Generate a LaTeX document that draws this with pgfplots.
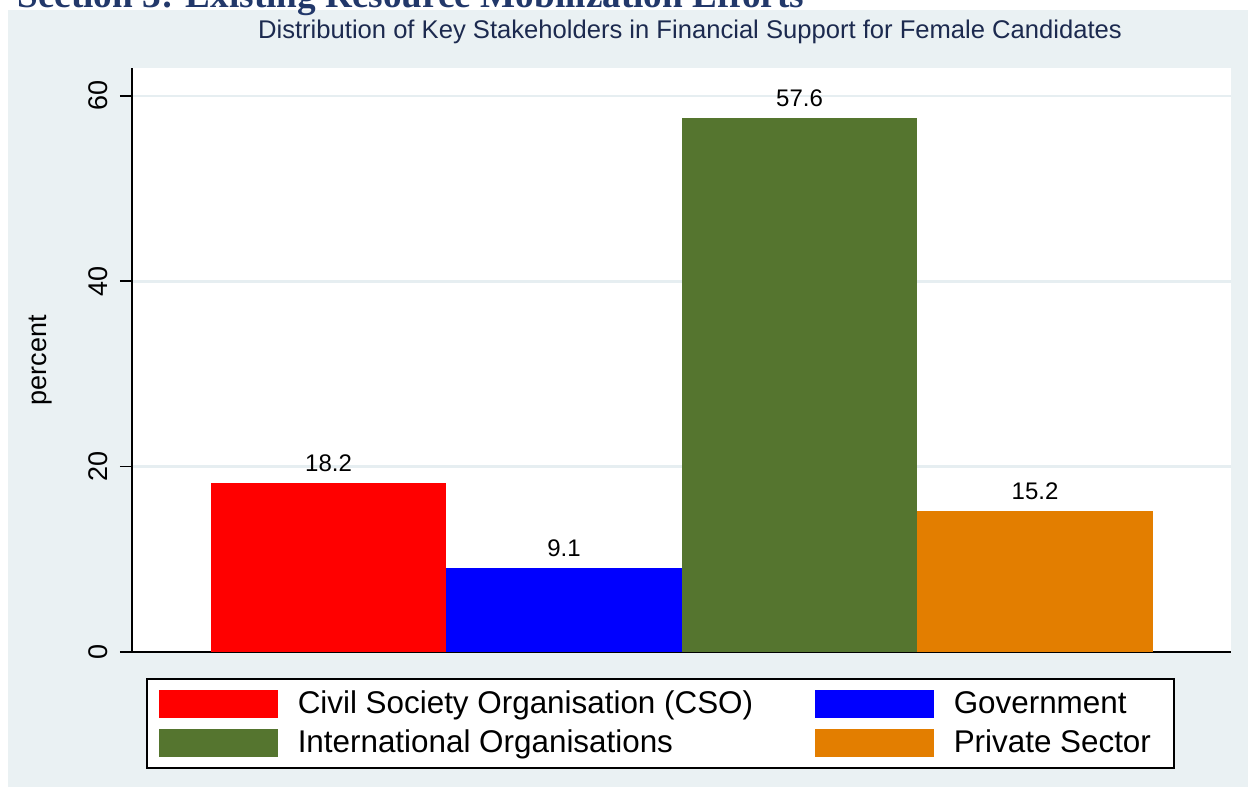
\documentclass[border=0pt]{standalone}
\usepackage{pgfplots}
\pgfplotsset{compat=1.18}
\usepackage{fontspec}
\setmainfont{Liberation Sans}
\newfontfamily\headfont{Liberation Serif}

\definecolor{bgcol}{HTML}{EAF1F3}
\definecolor{gridcol}{HTML}{E6EEF1}
\definecolor{titlecol}{HTML}{1C2A4F}
\definecolor{headcol}{HTML}{22386A}
\definecolor{csored}{HTML}{FF0000}
\definecolor{govblue}{HTML}{0000FF}
\definecolor{intgreen}{HTML}{55752F}
\definecolor{privorange}{HTML}{E37E00}

\begin{document}
\begin{tikzpicture}
% page laid out in pixels of the reference: 1px = 0.5pt, y runs downwards
\begin{scope}[x=0.5pt,y=-0.5pt]
  \fill[bgcol] (8,10) rectangle (1248,787);
  \node[anchor=base west, inner sep=0pt, text=headcol,
        font=\headfont\bfseries\fontsize{18.6}{20}\selectfont]
        at (17,7) {Section 3: Existing Resource Mobilization Efforts};
  \node[text=titlecol, inner sep=0pt, font=\fontsize{12.8}{14}\selectfont]
        at (690,32) {Distribution of Key Stakeholders in Financial Support for Female Candidates};
\end{scope}

\begin{axis}[
    at={(66pt,-326pt)}, anchor=south west,
    scale only axis, width=549.5pt, height=292pt,
    xmin=0.1656, xmax=4.832, ymin=0, ymax=63,
    axis background/.style={fill=white},
    axis x line*=bottom, axis y line*=left,
    axis line style={line width=1pt, -},
    xtick=\empty,
    ytick={0,20,40,60},
    tick align=outside, major tick length=6pt,
    tick style={line width=0.8pt, black},
    ymajorgrids, grid style={gridcol, line width=1.3pt},
    /pgf/number format/assume math mode=true,
    yticklabel style={rotate=90, anchor=south, inner sep=6pt,
                      font=\fontsize{13.5}{15}\selectfont},
    ylabel={percent},
    ylabel style={at={(axis description cs:-0.083,0.5)}, anchor=center,
                  font=\fontsize{13.5}{15}\selectfont},
    ybar, bar width=117.75pt, bar shift=0pt,
    nodes near coords,
    nodes near coords style={anchor=south, inner sep=0pt, yshift=5.5pt,
                             font=\fontsize{12}{13}\selectfont,
                             /pgf/number format/fixed,
                             /pgf/number format/precision=1,
                             /pgf/number format/fixed zerofill},
    legend columns=2,
    legend image code/.code={\fill[#1] (0pt,-7pt) rectangle (59.5pt,7pt);},
    legend style={at={(axis description cs:0.0127,-0.0445)}, anchor=north west,
                  draw=black, line width=0.8pt, fill=white,
                  inner xsep=6pt, inner ysep=5.5pt,
                  row sep=5.5pt, column sep=0pt,
                  font=\fontsize{15.7}{17}\selectfont,
                  nodes={inner sep=0pt},
                  /tikz/every even column/.append style={column sep=0pt},
                  /tikz/every odd column/.append style={column sep=10pt}},
    legend cell align=left,
]
\addplot[fill=csored, draw=none] coordinates {(1,18.2)};
\addlegendentry{\makebox[258.5pt][l]{Civil Society Organisation (CSO)}}
\addplot[fill=govblue, draw=none] coordinates {(2,9.1)};
\addlegendentry{\makebox[104pt][l]{Government}}
\addplot[fill=intgreen, draw=none] coordinates {(3,57.6)};
\addlegendentry{\makebox[258.5pt][l]{International Organisations}}
\addplot[fill=privorange, draw=none] coordinates {(4,15.2)};
\addlegendentry{\makebox[104pt][l]{Private Sector}}
\end{axis}

\pgfresetboundingbox
\useasboundingbox (0pt,0pt) rectangle (624pt,-393.5pt);
\end{tikzpicture}
\end{document}
